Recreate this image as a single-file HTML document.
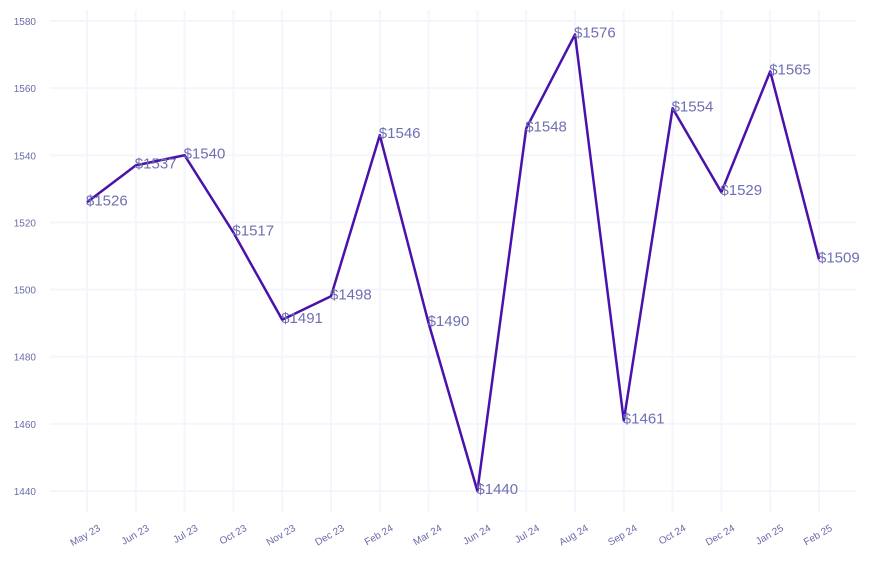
<!DOCTYPE html>
<html><head><meta charset="utf-8"><style>body{margin:0;background:#fff}svg{display:block;font-family:"Liberation Sans",sans-serif}</style></head>
<body>
<svg id="chart" width="873" height="565" viewBox="0 0 873 565" xmlns="http://www.w3.org/2000/svg">
<g id="grid"></g>
<g id="yaxis"></g>
<g id="xaxis"></g>
<g id="series"></g>
</svg>
<script>
const categories=["May 23","Jun 23","Jul 23","Oct 23","Nov 23","Dec 23","Feb 24","Mar 24","Jun 24","Jul 24","Aug 24","Sep 24","Oct 24","Dec 24","Jan 25","Feb 25"];
const prices=[1526,1537,1540,1517,1491,1498,1546,1490,1440,1548,1576,1461,1554,1529,1565,1509];
const yTicks=[1440,1460,1480,1500,1520,1540,1560,1580];
const NS="http://www.w3.org/2000/svg";
function x(i){return 87+i*(819-87)/(categories.length-1);}
function y(v){return 491-(v-1440)*(491-21)/140;}
function mk(t,a,p){const e=document.createElementNS(NS,t);for(const k in a)e.setAttribute(k,a[k]);p.appendChild(e);return e;}
const grid=document.getElementById('grid'),ya=document.getElementById('yaxis'),xa=document.getElementById('xaxis'),se=document.getElementById('series');
yTicks.forEach(v=>{
 const l=mk('line',{x1:50,x2:856,y1:y(v),y2:y(v),stroke:'#f5f5fd','stroke-width':2},grid);
 
 
 const t=mk('text',{x:36,y:y(v)+4,'text-anchor':'end','font-size':10,fill:'#6b6ba8'},ya);
 t.textContent=v;
 
 
});
categories.forEach((c,i)=>{
 const l=mk('line',{x1:x(i),x2:x(i),y1:10,y2:512,stroke:'#f5f5fd','stroke-width':2},grid);
 
 
 const t=mk('text',{x:x(i)+14,y:530,'text-anchor':'end','font-size':10,fill:'#6b6ba8',transform:`rotate(-30 ${x(i)+14} 530)`},xa);
 t.textContent=c;
 
 
});
const path=mk('polyline',{points:prices.map((v,i)=>x(i)+','+y(v)).join(' '),fill:'none',stroke:'#4a12aa','stroke-width':2.5,'stroke-linejoin':'round'},se);


prices.forEach((v,i)=>{
 const t=mk('text',{x:x(i)-1,y:y(v)+3,'font-size':15,fill:'#6f6fb3'},se);
 t.textContent='$'+v;
 
 
});
</script>
</body></html>
